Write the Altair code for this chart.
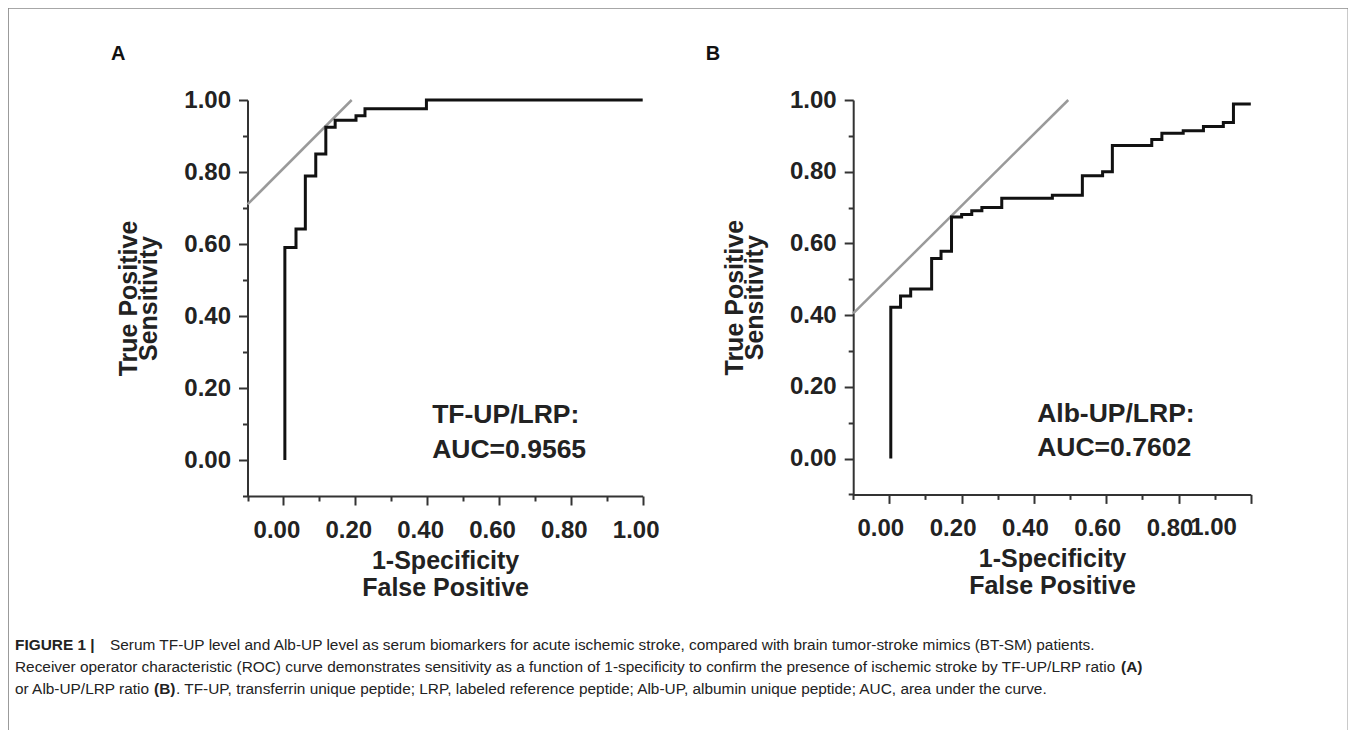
import altair as alt
import pandas as pd

# ---------------- data ----------------
fpr_a = [0.004, 0.004, 0.035, 0.061, 0.090, 0.118, 0.144, 0.202, 0.227, 0.398, 1.0]
tpr_a = [0.0, 0.590, 0.642, 0.789, 0.850, 0.924, 0.944, 0.956, 0.976, 1.0, 1.0]

fpr_b = [0.004, 0.004, 0.031, 0.059, 0.117, 0.143, 0.172, 0.200, 0.228, 0.256, 0.311,
         0.451, 0.534, 0.590, 0.617, 0.726, 0.754, 0.813, 0.869, 0.924, 0.952, 1.0]
tpr_b = [0.0, 0.422, 0.453, 0.473, 0.558, 0.578, 0.674, 0.681, 0.691, 0.700, 0.726,
         0.734, 0.789, 0.800, 0.873, 0.890, 0.907, 0.914, 0.926, 0.937, 0.989, 0.989]

diag_a_x = [-0.1, 0.19]
diag_a_y = [0.71, 1.0]
diag_b_x = [-0.1, 0.495]
diag_b_y = [0.405, 1.0]

tick_values = [-0.1, 0.0, 0.1, 0.2, 0.3, 0.4, 0.5, 0.6, 0.7, 0.8, 0.9, 1.0]

auc_a = ["TF-UP/LRP:", "AUC=0.9565"]
auc_b = ["Alb-UP/LRP:", "AUC=0.7602"]
auc_y = [0.103, 0.006]
auc_x = [0.414, 0.409]

panel_labels = ["A", "B"]
x_title = ["1-Specificity", "False Positive"]
y_title = ["True Positive", "Sensitivity"]

cap1_bold = "FIGURE 1 |"
cap1 = "Serum TF-UP level and Alb-UP level as serum biomarkers for acute ischemic stroke, compared with brain tumor-stroke mimics (BT-SM) patients."
cap2 = "Receiver operator characteristic (ROC) curve demonstrates sensitivity as a function of 1-specificity to confirm the presence of ischemic stroke by TF-UP/LRP ratio"
cap2_bold = "(A)"
cap3a = "or Alb-UP/LRP ratio"
cap3_bold = "(B)"
cap3b = ". TF-UP, transferrin unique peptide; LRP, labeled reference peptide; Alb-UP, albumin unique peptide; AUC, area under the curve."

# ---------------- styling ----------------
W, H = 1340, 728
FONT = "Liberation Sans"
INK = "#222222"
AX = "#333333"
CAP_SIZE = 15.4
minor_test = "abs(round(datum.value * 10)) % 2 == 1"


def make_axis(orient, offset, title, hide_one=False):
    hide = minor_test + (" || datum.value > 0.99" if hide_one else "")
    is_x = orient == "bottom"
    return alt.Axis(
        orient=orient, offset=offset, values=tick_values,
        labelExpr=f"({hide}) ? '' : format(datum.value, '.2f')",
        tickSize={"condition": {"test": minor_test, "value": 5}, "value": 9},
        tickWidth=2, tickColor=AX, domainColor=AX, domainWidth=2,
        labelFont=FONT, labelFontSize=24, labelFontWeight="bold", labelColor=INK,
        labelPadding=13 if is_x else 8,
        labelOffset=(-9 if hide_one else -7) if is_x else 0,
        labelOverlap=False, labelFlush=False, labelBound=False, grid=False,
        title=title, titleFont=FONT, titleFontSize=25, titleFontWeight="bold",
        titleColor=INK, titleLineHeight=27 if is_x else 20,
        titlePadding=6 if is_x else 22,
    )


def panel(fpr, tpr, dx, dy, auc, auc_xpos, label, lab_xy, xr, yr, hide_one):
    xe = alt.X("x:Q", scale=alt.Scale(domain=[-0.1, 1.0], range=xr, nice=False, zero=False),
               axis=make_axis("bottom", -(H - yr[0]), x_title, hide_one))
    ye = alt.Y("y:Q", scale=alt.Scale(domain=[-0.1, 1.0], range=yr, nice=False, zero=False),
               axis=make_axis("left", -xr[0], y_title))
    diag = alt.Chart(pd.DataFrame({"x": dx, "y": dy})).mark_line(
        color="#9a9a9a", strokeWidth=2.5).encode(x=xe, y=ye)
    curve = alt.Chart(pd.DataFrame({"x": fpr, "y": tpr, "i": list(range(len(fpr)))})).mark_line(
        color="#111111", strokeWidth=3, interpolate="step-after").encode(
        x=xe, y=ye, order="i:Q")
    txt = alt.Chart(pd.DataFrame({"x": [auc_xpos] * 2, "y": auc_y, "t": auc})).mark_text(
        align="left", baseline="alphabetic", font=FONT, fontSize=26.5,
        fontWeight="bold", color=INK).encode(x=xe, y=ye, text="t:N")
    lab = alt.Chart(pd.DataFrame({"x": [lab_xy[0]], "y": [lab_xy[1]], "t": [label]})).mark_text(
        align="center", baseline="middle", font=FONT, fontSize=20,
        fontWeight="bold", color="#111111").encode(x=xe, y=ye, text="t:N")
    layers = [diag, curve, txt, lab]
    if hide_one:
        one = alt.Chart(pd.DataFrame({"x": [0.897], "y": [-0.1], "t": ["1.00"]})).mark_text(
            align="center", baseline="top", dy=22, font=FONT, fontSize=24,
            fontWeight="bold", color=INK).encode(x=xe, y=ye, text="t:N")
        layers.append(one)
    return alt.layer(*layers)


pa = panel(fpr_a, tpr_a, diag_a_x, diag_a_y, auc_a, auc_x[0], panel_labels[0],
           (-0.46, 1.128), [239.5, 634.7], [488, 92], False)
pb = panel(fpr_b, tpr_b, diag_b_x, diag_b_y, auc_b, auc_x[1], panel_labels[1],
           (-0.488, 1.128), [845.2, 1242.8], [486.4, 92], True)

one_row = pd.DataFrame({"a": [0]})


def cap(text, x, y, bold=False):
    return alt.Chart(one_row).mark_text(
        align="left", baseline="alphabetic", font=FONT, fontSize=CAP_SIZE,
        fontWeight="bold" if bold else "normal", color=INK).encode(
        x=alt.value(x), y=alt.value(y), text=alt.value(text))


caption = alt.layer(
    cap(cap1_bold, 7, 642, True), cap(cap1, 102, 642),
    cap(cap2, 7, 664), cap(cap2_bold, 1113, 664, True),
    cap(cap3a, 7, 686), cap(cap3_bold, 146, 686, True), cap(cap3b, 168, 686),
)

chart = alt.layer(pa, pb, caption).resolve_scale(
    x="independent", y="independent"
).properties(
    width=W, height=H, padding=0, autosize=alt.AutoSizeParams(type="none"),
    background="white",
).configure_view(stroke="#8a8a8a", strokeWidth=1.3)

chart.save("out.html", embed_options={"renderer": "svg", "actions": False})
